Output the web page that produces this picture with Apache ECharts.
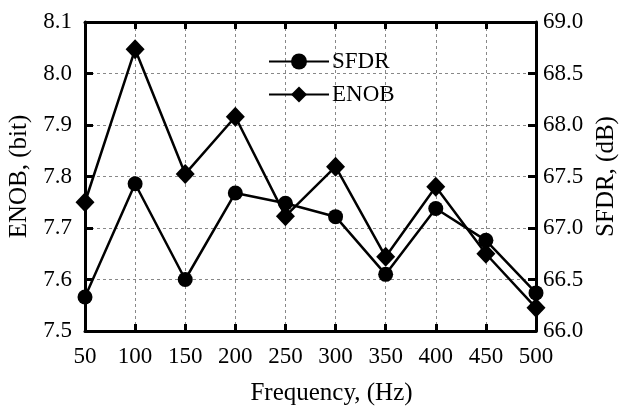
<!DOCTYPE html>
<html>
<head>
<meta charset="utf-8">
<script src="https://cdn.jsdelivr.net/npm/echarts@6/dist/echarts.min.js"></script>
<style>html,body{margin:0;padding:0;background:#fff;}#c{width:624px;height:408px;}</style>
</head>
<body>
<div id="c"></div>
<script>
var frequency = [50, 100, 150, 200, 250, 300, 350, 400, 450, 500];
var enob = [7.75, 8.047, 7.805, 7.916, 7.723, 7.819, 7.644, 7.780, 7.650, 7.545];
var sfdr = [66.33, 67.43, 66.50, 67.34, 67.24, 67.11, 66.55, 67.19, 66.88, 66.37];
var enobTicks = [7.5, 7.6, 7.7, 7.8, 7.9, 8.0, 8.1];
var sfdrTicks = [66.0, 66.5, 67.0, 67.5, 68.0, 68.5, 69.0];

var FONT = '"Liberation Serif", "DejaVu Serif", serif';
var chart = echarts.init(document.getElementById('c'));
function pairs(xs, ys){ return xs.map(function(x,i){ return [x, ys[i]]; }); }
var axisLine = {show:true, lineStyle:{color:'#000', width:3}};
var grid = {show:true, lineStyle:{color:'#888', type:[3,3], width:1}};
chart.setOption({
  animation:false,
  backgroundColor:'#fff',
  grid:{left:85, right:88, top:22, bottom:77, containLabel:false, outerBoundsMode:'none'},
  legend:{
    orient:'vertical', left:263, top:45, itemGap:10,
    itemWidth:60, itemHeight:20,
    textStyle:{fontFamily:FONT, fontSize:23, lineHeight:23, color:'#000', padding:[0,0,0,-2]},
    data:['SFDR','ENOB']
  },
  xAxis:[{
    type:'value', min:50, max:500, interval:50,
    name:'Frequency, (Hz)', nameLocation:'middle', nameGap:50,
    nameTextStyle:{fontFamily:FONT, fontSize:25, color:'#000', padding:[0,0,0,42]},
    axisLine:axisLine,
    axisTick:{show:true, inside:true, length:7, lineStyle:{color:'#000', width:3}},
    axisLabel:{fontFamily:FONT, fontSize:23, color:'#000', margin:14},
    splitLine:grid
  },{
    type:'value', min:50, max:500, interval:50, position:'top',
    axisLine:axisLine,
    axisTick:{show:true, inside:true, length:7, lineStyle:{color:'#000', width:3}},
    axisLabel:{show:false}, splitLine:{show:false}
  }],
  yAxis:[{
    type:'value', min:7.5, max:8.1, interval:0.1, position:'left',
    name:'ENOB, (bit)', nameLocation:'middle', nameGap:48, nameRotate:90,
    nameTextStyle:{fontFamily:FONT, fontSize:25, color:'#000'},
    axisLine:axisLine,
    axisTick:{show:true, inside:true, length:8, lineStyle:{color:'#000', width:3}},
    axisLabel:{fontFamily:FONT, fontSize:23, color:'#000', margin:13,
      formatter:function(v){ return v.toFixed(1); }},
    splitLine:grid
  },{
    type:'value', min:66, max:69, interval:0.5, position:'right',
    name:'SFDR, (dB)', nameLocation:'middle', nameGap:56, nameRotate:90,
    nameTextStyle:{fontFamily:FONT, fontSize:25, color:'#000'},
    axisLine:axisLine,
    axisTick:{show:true, inside:true, length:8, lineStyle:{color:'#000', width:3}},
    axisLabel:{fontFamily:FONT, fontSize:23, color:'#000', margin:7,
      formatter:function(v){ return v.toFixed(1); }},
    splitLine:{show:false}
  }],
  series:[{
    name:'SFDR', type:'line', xAxisIndex:0, yAxisIndex:1,
    data:pairs(frequency, sfdr),
    symbol:'circle', symbolSize:15,
    lineStyle:{color:'#000', width:2.5}, itemStyle:{color:'#000'},
    clip:false
  },{
    name:'ENOB', type:'line', xAxisIndex:0, yAxisIndex:0,
    data:pairs(frequency, enob),
    symbol:'diamond', symbolSize:[19,20],
    lineStyle:{color:'#000', width:2.5}, itemStyle:{color:'#000'},
    clip:false
  }]
});
</script>
</body>
</html>
